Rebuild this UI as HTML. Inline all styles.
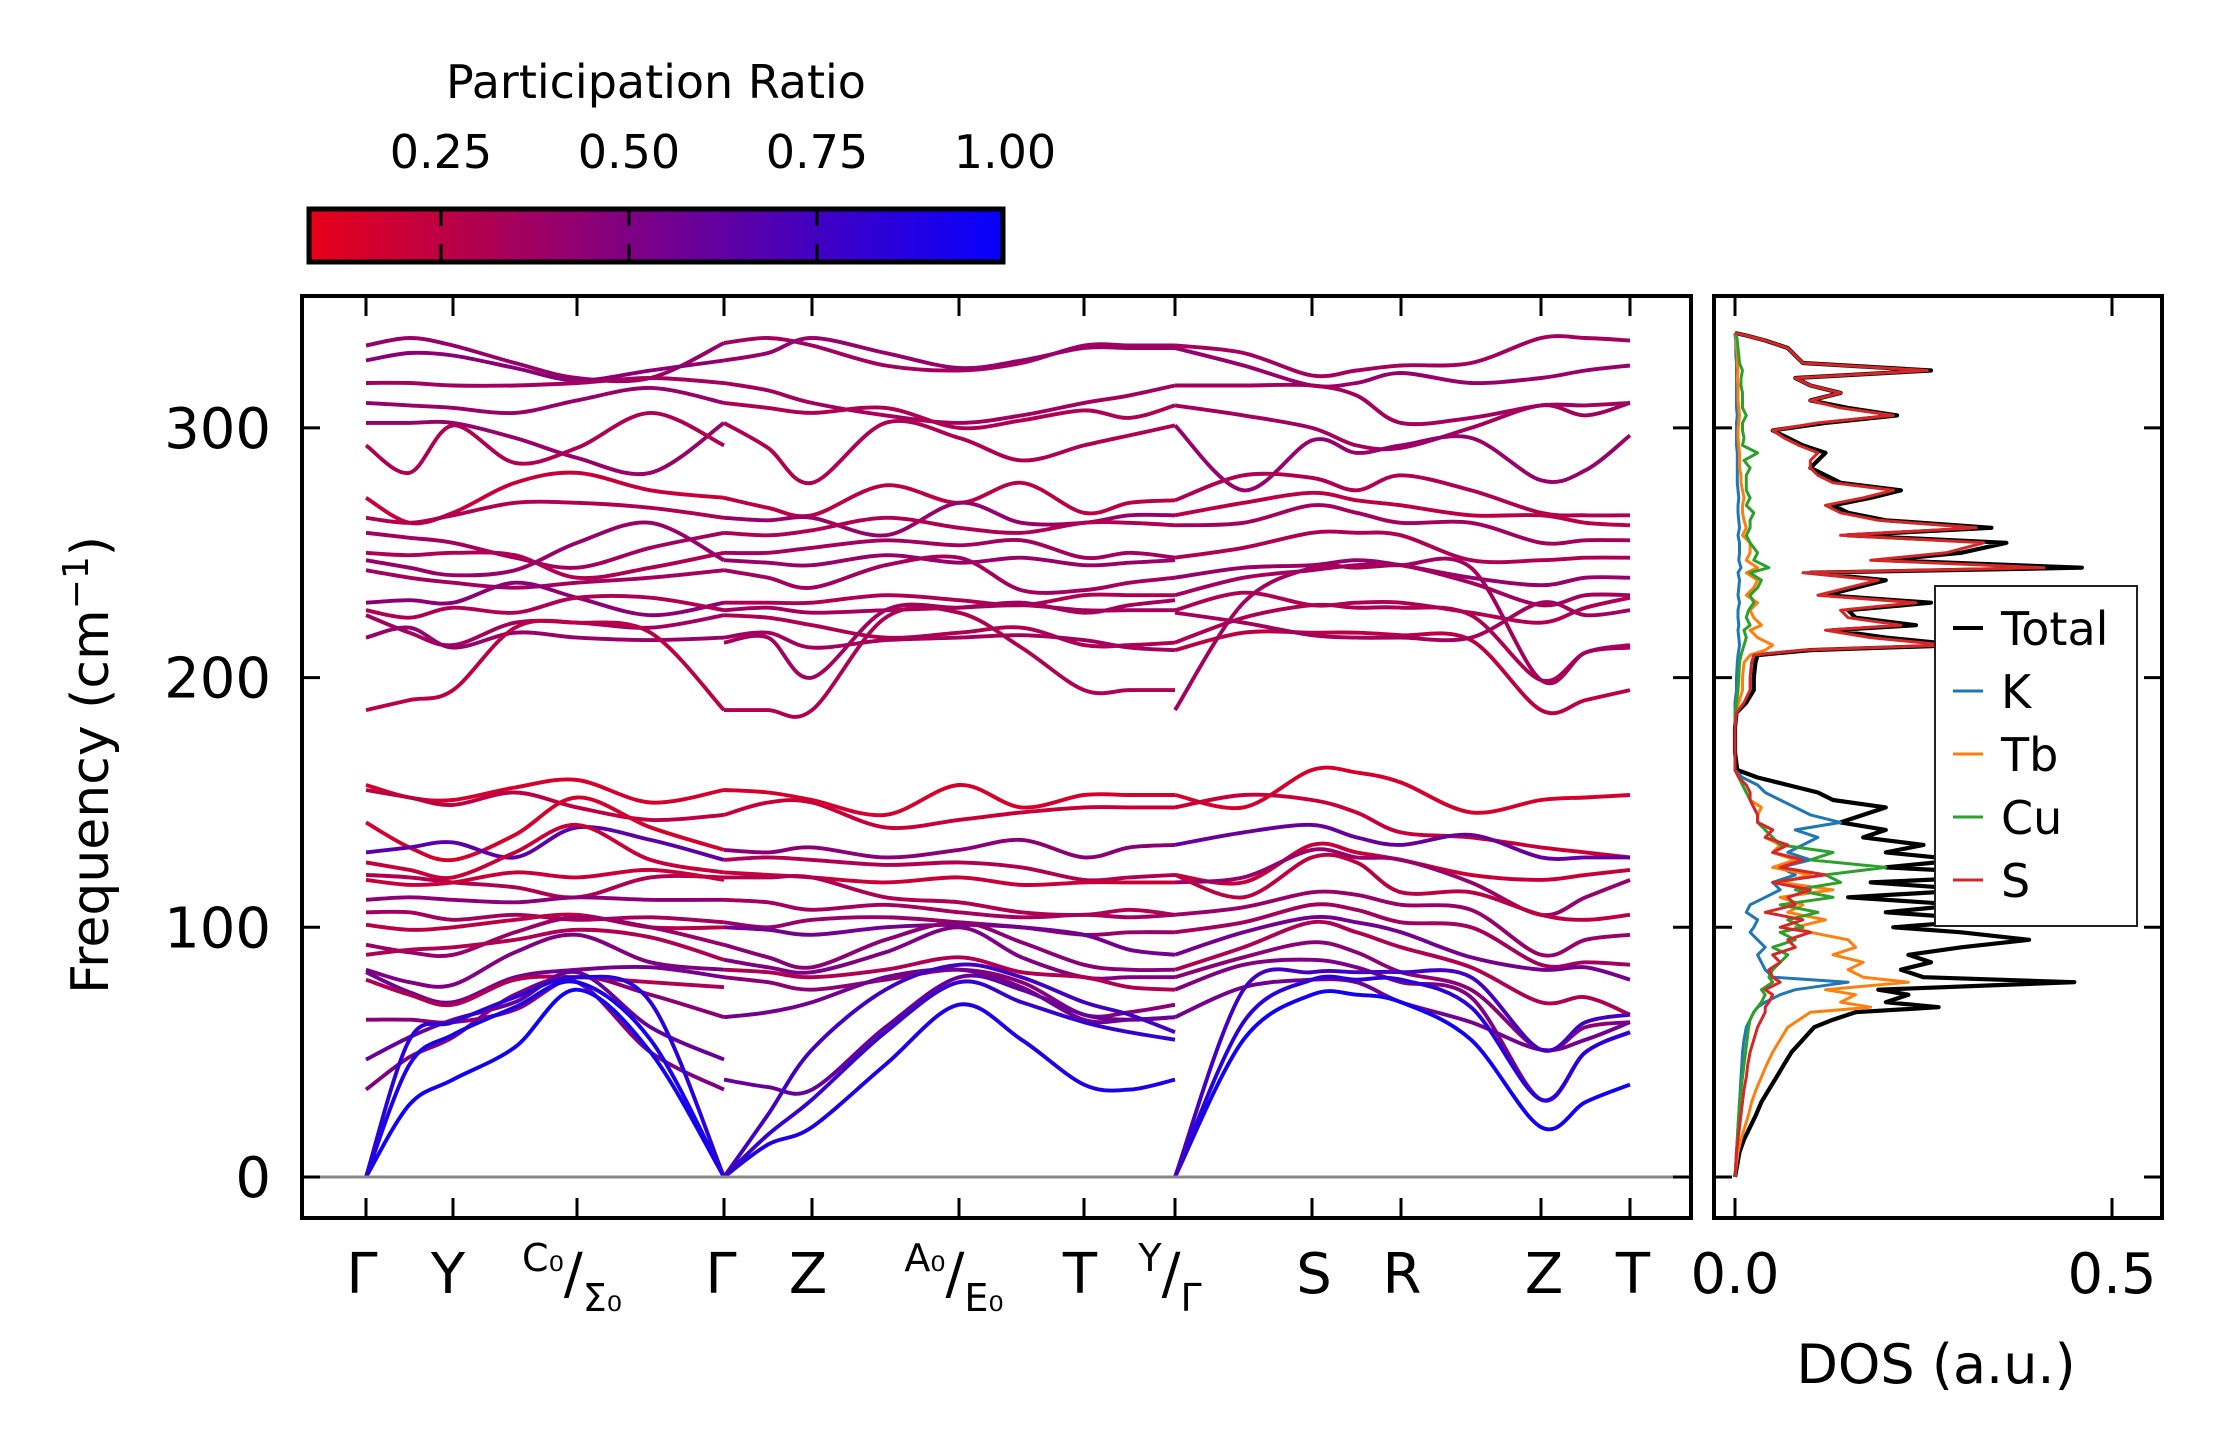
<!DOCTYPE html>
<html><head><meta charset="utf-8"><style>
html,body{margin:0;padding:0;background:#fff;}
svg{display:block;font-family:"DejaVu Sans","Liberation Sans",sans-serif;}
</style></head><body>
<svg id="chart" xmlns="http://www.w3.org/2000/svg" width="2222" height="1455" viewBox="0 0 2222 1455">
<defs>
<linearGradient id="cbg" x1="0" x2="1" y1="0" y2="0">
<stop offset="0" stop-color="rgb(232,0,24)"/><stop offset="1" stop-color="rgb(5,0,255)"/>
</linearGradient>
<clipPath id="mainclip"><rect x="304" y="296" width="1385" height="920"/></clipPath>
<clipPath id="dosclip"><rect x="1716" y="296" width="444" height="920"/></clipPath>
</defs>
<g id="colorbar">
<text x="656" y="98" font-size="46" text-anchor="middle">Participation Ratio</text>
<rect x="309" y="209" width="694" height="53" fill="url(#cbg)" stroke="#000" stroke-width="5"/>
</g>
<g id="bands" clip-path="url(#mainclip)"></g>
<g id="dos" clip-path="url(#dosclip)"></g>
<g id="axes"></g>
</svg>
<script>
// ---- k-path & axes data ----
const kTicks=[0,0.87,2.11,3.58,4.46,5.93,7.18,8.09,9.46,10.35,11.75,12.64];
const freqTicks=[0,100,200,300];
const cbTicks=[0.25,0.5,0.75,1.0];
const cbLabels=["0.25","0.50","0.75","1.00"];
const dosTicks=[0,0.5];
const dosTickLabels=["0.0","0.5"];
// ---- panel 1 (Γ-Y-C0 | Σ0-Γ) ----
const p1Freqs=[
[333,336,333,326,320,320,334],[327,330,329,324,319,323,327],[318,318,317,317,318,320,318],
[310,309,308,306,311,316,310],[302,302,302,296,288,282,302],[293,282,301,286,292,306,293],
[272,262,266,278,282,275,272],[264,262,265,270,270,268,264],[258,256,254,248,244,252,258],
[250,249,250,249,240,244,250],[247,244,241,243,254,262,247],[243,240,238,236,238,240,243],
[230,231,230,238,232,225,230],[227,224,228,226,232,232,227],[225,218,213,222,222,220,225],
[216,220,212,218,216,215,216],[187,191,195,220,222,218,187],
[157,152,151,156,159,150,155],[155,152,149,154,148,143,145],[142,132,127,137,152,140,131],
[130,132,134,128,140,135,127],[126,123,120,130,141,127,122],[121,120,118,116,112,120,120],
[119,117,118,122,120,123,119],[111,112,111,110,112,111,111],[106,106,103,105,103,104,102],
[101,99,100,103,105,100,100],[93,90,89,98,104,100,93],[89,91,92,95,99,96,87],
[83,78,77,90,97,86,83],[82,74,70,80,83,84,80],[79,73,69,79,80,78,76],
[63,63,62,67,80,73,64],[47,56,63,70,82,60,47],[35,48,56,73,78,50,35],
[0,29,39,52,75,50,0],[0,45,57,68,78,55,0],[0,55,62,72,80,70,0]];
const p1PR=[0.4,0.45,0.35,0.4,0.4,0.3,0.2,0.3,0.35,0.3,0.4,0.35,0.45,0.3,0.35,0.4,0.25,
0.15,0.25,0.15,0.65,0.2,0.3,0.2,0.45,0.35,0.25,0.4,0.3,0.5,0.55,0.3,0.45,0.6,0.5,0.95,0.92,0.85];
// ---- panel 2 (Γ-Z-A0|E0-T-Y) ----
const p2Freqs=[
[334,336,333,325,323,326,333,333,333],[327,330,336,330,324,327,332,332,332],[318,315,310,305,302,305,310,313,317],
[310,308,306,308,300,303,307,304,309],[302,292,278,302,296,287,293,297,301],[272,268,265,277,270,278,266,270,271],
[264,263,264,257,270,262,262,265,265],[258,257,259,264,260,258,262,262,261],[250,250,252,255,253,255,248,250,248],
[247,246,245,249,246,248,245,246,247],[243,240,236,245,248,235,235,238,240],[230,230,230,233,231,229,233,233,233],
[227,228,226,227,228,229,227,227,227],[225,224,221,216,218,220,213,213,214],[216,218,212,215,216,217,215,212,211],
[187,187,187,224,226,212,195,195,195],[214,216,200,227,228,230,226,229,231],
[155,154,151,145,157,148,153,153,153],[145,150,150,140,143,146,148,148,148],[131,130,132,128,131,135,128,132,133],
[127,128,127,125,126,124,119,120,121],[122,121,120,118,120,117,118,118,118],[120,120,120,112,110,106,105,107,105],
[111,110,107,109,106,104,105,104,105],[102,100,103,104,102,100,97,98,98],[100,99,97,100,101,100,97,91,89],
[93,88,84,95,102,94,85,83,83],[87,84,82,90,100,88,80,80,80],[83,82,80,83,88,82,80,76,75],
[80,78,75,79,83,78,65,66,69],[64,66,70,80,83,76,63,63,64],[39,36,35,60,80,75,65,63,64],
[0,13,20,45,69,55,37,35,39],[0,17,31,58,78,70,62,58,55],[0,25,51,75,85,80,70,65,58]];
const p2PR=[0.35,0.4,0.35,0.3,0.3,0.25,0.4,0.3,0.35,0.4,0.35,0.3,0.35,0.3,0.35,0.3,0.35,
0.15,0.2,0.45,0.3,0.2,0.3,0.35,0.4,0.55,0.45,0.5,0.3,0.45,0.55,0.6,0.9,0.8,0.75];
// ---- panel 3 (Γ-S-R-Z-T) ----
const p3Freqs=[
[333,330,321,323,325,326,336,336,335],[332,325,317,318,322,318,320,323,325],[317,317,317,313,302,304,309,309,310],
[309,305,300,293,292,300,309,305,310],[301,275,295,290,293,296,279,283,297],[271,281,280,275,281,275,266,265,265],
[265,270,274,271,269,265,265,262,261],[261,262,269,266,262,262,254,255,255],[248,252,258,258,257,247,247,248,248],
[240,244,245,247,245,240,237,240,240],[233,240,243,245,245,238,229,233,233],[227,234,229,230,230,226,222,228,232],
[214,224,229,228,228,225,199,210,213],[211,218,218,218,217,215,187,191,195],[226,222,217,216,216,216,230,225,227],
[187,230,244,244,245,244,199,210,212],
[153,148,163,162,158,146,151,152,153],[148,153,151,146,138,136,132,130,128],[133,138,141,136,133,137,128,128,128],
[121,118,133,130,127,121,119,121,123],[118,120,131,128,127,118,105,112,119],[121,112,128,126,114,114,105,103,105],
[105,108,114,113,109,107,89,95,97],[98,102,109,107,102,100,85,86,85],[89,98,104,102,98,88,83,84,79],
[83,92,102,98,92,84,70,72,65],[80,88,94,90,82,75,51,60,62],[75,85,87,84,78,72,31,50,58],
[64,76,79,78,70,62,51,55,62],
[0,55,73,73,70,55,20,30,37],[0,62,79,79,79,68,31,50,58],[0,75,82,82,82,80,51,62,65]];
const p3PR=[0.35,0.4,0.35,0.35,0.4,0.3,0.25,0.35,0.3,0.4,0.35,0.3,0.3,0.25,0.35,0.35,
0.15,0.2,0.6,0.2,0.4,0.25,0.4,0.35,0.55,0.3,0.45,0.5,0.55,0.95,0.85,0.75];
// ---- DOS data ----
const dosFreq=[0,5,10,15,20,25,30,35,40,45,50,55,60,63,66,68,70,73,75,78,80,83,86,89,92,95,98,100,103,106,109,112,115,118,121,124,127,130,133,136,139,142,145,148,151,154,157,160,163,170,180,186,190,195,200,206,209,211,213,216,219,221,224,227,230,233,236,239,242,244,247,250,254,257,260,263,266,269,272,275,278,281,284,287,290,293,296,299,302,305,308,311,314,317,320,323,326,329,332,335,337,338];
const dosTotal=[0,.003,.006,.012,.02,.028,.035,.045,.055,.065,.075,.09,.105,.13,.16,.27,.2,.23,.19,.45,.25,.22,.26,.23,.3,.39,.3,.21,.34,.2,.3,.15,.32,.18,.4,.2,.3,.2,.25,.17,.2,.14,.17,.2,.13,.11,.07,.03,.003,0,0,.002,.015,.025,.025,.027,.03,.1,.3,.2,.13,.24,.16,.15,.26,.12,.16,.2,.1,.46,.2,.3,.36,.15,.34,.2,.15,.13,.18,.22,.14,.12,.1,.11,.12,.09,.07,.05,.12,.215,.15,.1,.14,.1,.08,.26,.09,.08,.07,.04,.015,0];
const dosK=[0,.001,.002,.003,.004,.005,.006,.007,.008,.009,.01,.012,.015,.02,.025,.03,.04,.06,.08,.15,.05,.04,.035,.03,.04,.03,.02,.025,.03,.015,.02,.04,.06,.05,.08,.06,.1,.07,.09,.11,.08,.14,.1,.08,.06,.04,.03,.01,0,0,0,0,0,.002,.002,.003,.004,.005,.006,.005,.004,.005,.004,.004,.006,.004,.005,.006,.004,.008,.005,.006,.006,.004,.006,.005,.004,.004,.005,.004,.003,.003,.003,.003,.003,.002,.002,.002,.002,.003,.002,.002,.002,.002,.002,.002,.002,.001,.001,.001,0,0];
const dosTb=[0,.002,.004,.008,.013,.018,.022,.028,.035,.042,.05,.06,.07,.085,.1,.18,.14,.16,.12,.23,.17,.15,.17,.13,.16,.15,.1,.08,.12,.07,.09,.06,.13,.06,.1,.05,.08,.05,.06,.04,.05,.03,.03,.035,.02,.015,.01,.005,0,0,0,0,.005,.01,.01,.012,.02,.04,.05,.03,.02,.035,.025,.02,.03,.015,.025,.03,.015,.03,.015,.02,.02,.01,.015,.012,.01,.01,.012,.01,.008,.008,.006,.006,.006,.005,.004,.004,.005,.006,.005,.004,.004,.004,.003,.004,.003,.003,.002,.002,.001,0];
const dosCu=[0,.001,.002,.003,.004,.005,.006,.008,.01,.012,.014,.016,.018,.02,.025,.03,.035,.04,.035,.05,.045,.05,.06,.07,.05,.08,.06,.09,.07,.11,.06,.13,.08,.14,.12,.2,.1,.13,.06,.05,.04,.03,.03,.025,.02,.015,.01,.005,0,0,0,0,.002,.004,.005,.006,.008,.01,.012,.015,.012,.02,.015,.018,.025,.02,.03,.035,.02,.045,.025,.03,.02,.015,.02,.02,.025,.015,.02,.015,.015,.015,.02,.012,.03,.01,.012,.01,.01,.015,.01,.01,.01,.008,.008,.01,.006,.005,.004,.003,.002,0];
const dosS=[0,.001,.002,.004,.006,.008,.01,.012,.015,.017,.02,.025,.03,.035,.04,.04,.045,.05,.04,.06,.05,.045,.06,.05,.08,.07,.1,.06,.09,.04,.08,.07,.1,.05,.12,.06,.09,.05,.07,.04,.05,.03,.03,.025,.02,.02,.015,.005,0,0,0,.002,.012,.02,.02,.022,.025,.09,.28,.18,.12,.22,.15,.14,.24,.11,.15,.19,.09,.41,.18,.28,.33,.14,.32,.19,.14,.12,.17,.21,.13,.11,.1,.1,.11,.085,.065,.05,.11,.21,.14,.1,.14,.1,.08,.255,.09,.08,.07,.04,.015,0];
const legendNames=["Total","K","Tb","Cu","S"];

// ---- scales ----
const NS="http://www.w3.org/2000/svg";
const xK=k=>366+k*100;
const yF=f=>1177-f*2.497;
const xD=v=>1735+v*754;
const xCB=p=>1005-(1-p)*752;
function mk(tag,attrs,parent){const e=document.createElementNS(NS,tag);for(const a in attrs)e.setAttribute(a,attrs[a]);parent.appendChild(e);return e;}
function cmap(p){let t=(p-0.072)/0.928;t=Math.max(0,Math.min(1,t));
 return `rgb(${Math.round(232*(1-t)+5*t)},0,${Math.round(24*(1-t)+255*t)})`;}
function nodesFor(i0,i1){const n=[];for(let i=i0;i<i1;i++){n.push(kTicks[i]);n.push((kTicks[i]+kTicks[i+1])/2);}n.push(kTicks[i1]);return n;}
function smoothPath(pts){let d=`M${pts[0][0].toFixed(1)},${pts[0][1].toFixed(1)}`;
 for(let i=0;i<pts.length-1;i++){const p0=pts[Math.max(0,i-1)],p1=pts[i],p2=pts[i+1],p3=pts[Math.min(pts.length-1,i+2)];
  const c1=[p1[0]+(p2[0]-p0[0])/6,p1[1]+(p2[1]-p0[1])/6],c2=[p2[0]-(p3[0]-p1[0])/6,p2[1]-(p3[1]-p1[1])/6];
  d+=` C${c1[0].toFixed(1)},${c1[1].toFixed(1)} ${c2[0].toFixed(1)},${c2[1].toFixed(1)} ${p2[0].toFixed(1)},${p2[1].toFixed(1)}`;}
 return d;}
const gB=document.getElementById('bands');
const panels=[[p1Freqs,p1PR,0,3],[p2Freqs,p2PR,3,7],[p3Freqs,p3PR,7,11]];
panels.forEach(([F,PR,i0,i1],pi)=>{const ks=nodesFor(i0,i1);
 F.forEach((band,bi)=>{const pts=band.map((f,j)=>[xK(ks[j]),yF(f)]);
  const p=mk('path',{d:smoothPath(pts),fill:'none',stroke:cmap(PR[bi]),'stroke-width':3.9,'stroke-linecap':'butt'},gB);
  
  
 });});
// zero line
const zl=mk('line',{x1:304,x2:1689,y1:yF(0),y2:yF(0),stroke:'#888','stroke-width':3},gB);



// ---- DOS ----
const gD=document.getElementById('dos');
const dosSeries=[[dosTotal,'#000',4.2],[dosK,'#1f77b4',3],[dosTb,'#ff7f0e',3],[dosCu,'#2ca02c',3],[dosS,'#d62728',3]];
dosSeries.forEach(([arr,c,w],si)=>{const pts=arr.map((v,i)=>`${xD(v).toFixed(1)},${yF(dosFreq[i]).toFixed(1)}`).join(' ');
 const pl=mk('polyline',{points:pts,fill:'none',stroke:c,'stroke-width':w,'stroke-linejoin':'round'},gD);
 
 });

// ---- axes ----
const gA=document.getElementById('axes');
const mf=mk('rect',{x:302,y:296,width:1389,height:922,fill:'none',stroke:'#000','stroke-width':4},gA);


const df=mk('rect',{x:1714,y:296,width:448,height:922,fill:'none',stroke:'#000','stroke-width':4},gA);


kTicks.forEach(k=>{const x=xK(k);
 const t1=mk('line',{x1:x,x2:x,y1:298,y2:316,stroke:'#000','stroke-width':3},gA);
 
 
 const t2=mk('line',{x1:x,x2:x,y1:1216,y2:1198,stroke:'#000','stroke-width':3},gA);
 
 });
freqTicks.forEach(f=>{const y=yF(f);
 [[302,320],[1691,1673],[1714,1732],[2162,2144]].forEach(([a,b])=>{const t=mk('line',{x1:a,x2:b,y1:y,y2:y,stroke:'#000','stroke-width':3},gA);
  
  });
 const lb=mk('text',{x:271,y:y+20,'font-size':56,'text-anchor':'end'},gA);lb.textContent=String(f);
 
 });
dosTicks.forEach((v,i)=>{const x=xD(v);
 [[298,316],[1216,1198]].forEach(([a,b])=>{const t=mk('line',{x1:x,x2:x,y1:a,y2:b,stroke:'#000','stroke-width':3},gA);
  
  });
 const lb=mk('text',{x:x,y:1293,'font-size':56,'text-anchor':'middle'},gA);lb.textContent=dosTickLabels[i];
 
 });
// colorbar ticks/labels
const gC=document.getElementById('colorbar');
cbTicks.forEach((p,i)=>{const x=xCB(p);
 if(p<1){[[211,226],[244,260]].forEach(([a,b])=>{const t=mk('line',{x1:x,x2:x,y1:a,y2:b,stroke:'#000','stroke-width':3},gC);
  
  });}
 const lb=mk('text',{x:x,y:168,'font-size':46,'text-anchor':'middle'},gC);lb.textContent=cbLabels[i];
 
 });
</script>
<svg style="position:absolute;left:0;top:0" width="2222" height="1455" viewBox="0 0 2222 1455" xmlns="http://www.w3.org/2000/svg" font-family="DejaVu Sans, Liberation Sans, sans-serif">
<text transform="translate(108,765) rotate(-90)" font-size="52" text-anchor="middle">Frequency (cm<tspan font-size="36" dy="-20">−1</tspan><tspan dy="20">)</tspan></text>
<text x="1936" y="1383" font-size="54" text-anchor="middle">DOS (a.u.)</text>
<g font-size="56" text-anchor="middle">
<text x="362" y="1293">Γ</text>
<text x="448" y="1293">Y</text>
<text x="572" y="1293"><tspan font-size="38" dy="-22">C₀</tspan><tspan font-size="56" dy="22">/</tspan><tspan font-size="38" dy="18">Σ₀</tspan></text>
<text x="721" y="1293">Γ</text>
<text x="808" y="1293">Z</text>
<text x="954" y="1293"><tspan font-size="38" dy="-22">A₀</tspan><tspan font-size="56" dy="22">/</tspan><tspan font-size="38" dy="18">E₀</tspan></text>
<text x="1080" y="1293">T</text>
<text x="1170" y="1293"><tspan font-size="38" dy="-22">Y</tspan><tspan font-size="56" dy="22">/</tspan><tspan font-size="38" dy="18">Γ</tspan></text>
<text x="1314" y="1293">S</text>
<text x="1402" y="1293">R</text>
<text x="1544" y="1293">Z</text>
<text x="1633" y="1293">T</text>
</g>
<g>
<rect x="1935" y="586" width="202" height="340" fill="#fff" stroke="#222" stroke-width="2"/>
<line x1="1953" x2="1983" y1="628" y2="628" stroke="#000" stroke-width="4"/>
<text x="2001" y="645" font-size="46">Total</text>
<line x1="1953" x2="1983" y1="691" y2="691" stroke="#1f77b4" stroke-width="3"/>
<text x="2001" y="708" font-size="46">K</text>
<line x1="1953" x2="1983" y1="754" y2="754" stroke="#ff7f0e" stroke-width="3"/>
<text x="2001" y="771" font-size="46">Tb</text>
<line x1="1953" x2="1983" y1="817" y2="817" stroke="#2ca02c" stroke-width="3"/>
<text x="2001" y="834" font-size="46">Cu</text>
<line x1="1953" x2="1983" y1="880" y2="880" stroke="#d62728" stroke-width="3"/>
<text x="2001" y="897" font-size="46">S</text>
</g>
</svg>
</body></html>
